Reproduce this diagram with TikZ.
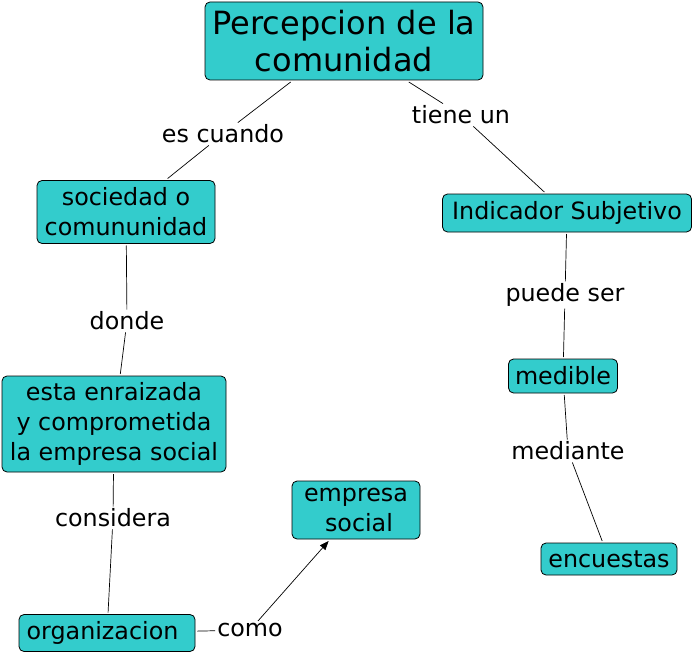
\documentclass[tikz,border=0pt]{standalone}
\usepackage{fontspec}
\setmainfont{DejaVu Sans}
\usetikzlibrary{arrows.meta}
\definecolor{cmap}{RGB}{51,204,204}
\tikzset{
  concept/.style={draw=black, fill=cmap, rounded corners=5pt, line width=0.8pt,
    align=center, inner sep=0pt, outer sep=2pt, text=black,
    font=\fontsize{23.8}{30}\selectfont},
  linklabel/.style={inner sep=2pt, text=black, font=\fontsize{23.8}{30}\selectfont},
  conn/.style={line width=0.7pt, draw=black}
}
\begin{document}
\begin{tikzpicture}[x=1pt,y=-1pt]
\useasboundingbox[fill=white] (0,0) rectangle (695,655);
% concepts
\node[concept, minimum width=278, minimum height=78, font=\fontsize{32}{37}\selectfont] (perc) at (344,41) {Percepcion de la\\comunidad};
\node[concept, minimum width=178, minimum height=63] (soc) at (126,212) {sociedad o\\comununidad};
\node[concept, minimum width=249, minimum height=38] (ind) at (567,213) {Indicador Subjetivo};
\node[concept, minimum width=109, minimum height=34] (med) at (563,376) {medible};
\node[concept, minimum width=136, minimum height=32] (enc) at (609,559) {encuestas};
\node[concept, minimum width=224, minimum height=96] (esta) at (114,424) {esta enraizada\\y comprometida\hspace{8pt}\\la empresa social};
\node[concept, minimum width=128, minimum height=58] (emp) at (356,510) {empresa\\\hspace{6pt}social};
\node[concept, minimum width=176, minimum height=37] (org) at (107,633) {organizacion\hspace{9pt}};
% link labels
\node[linklabel] (l1) at (223,134) {es cuando};
\node[linklabel] (l2) at (461,115) {tiene un};
\node[linklabel] (l3) at (127,321) {donde};
\node[linklabel] (l4) at (565,295) {puede ser};
\node[linklabel] (l5) at (568,451) {mediante};
\node[linklabel] (l6) at (113,518) {considera};
\node[linklabel] (l7) at (250,630) {como};
% connectors
\draw[conn] (perc) -- (l1);
\draw[conn] (l1) -- (soc);
\draw[conn] (perc) -- (l2);
\draw[conn] (l2) -- (ind);
\draw[conn] (soc) -- (l3);
\draw[conn] (l3) -- (esta);
\draw[conn] (ind) -- (l4);
\draw[conn] (l4) -- (med);
\draw[conn] (med) -- (l5);
\draw[conn] (l5) -- (enc);
\draw[conn] (esta) -- (l6);
\draw[conn] (l6) -- (org);
\draw[conn] (org) -- (l7);
\draw[conn, -{Triangle[length=9pt,width=7pt]}] (l7) -- (emp);
\end{tikzpicture}
\end{document}
